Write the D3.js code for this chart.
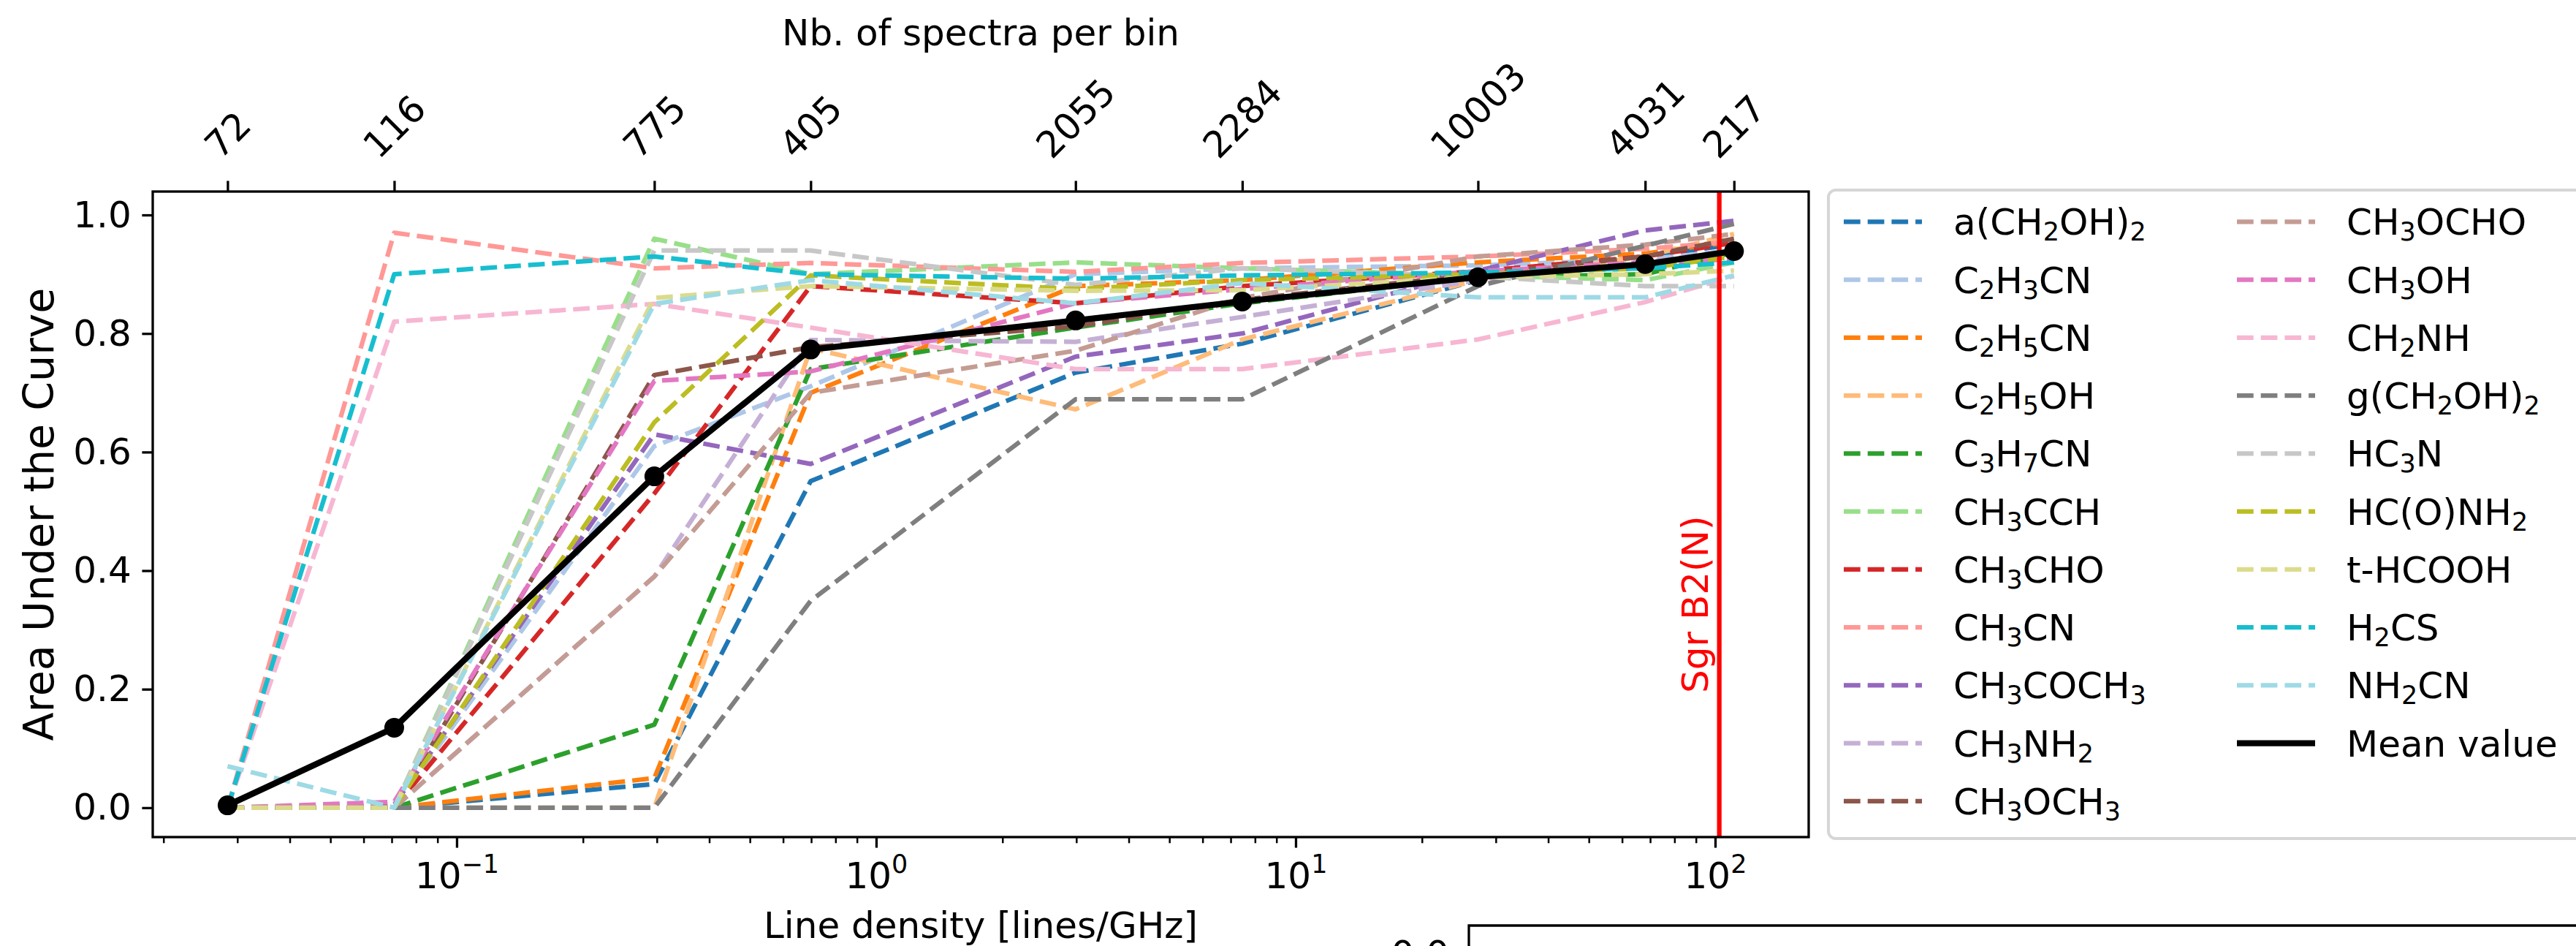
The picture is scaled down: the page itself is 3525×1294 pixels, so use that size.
<!DOCTYPE html>
<html><head><meta charset="utf-8">
<script src="https://cdn.jsdelivr.net/npm/d3@7"></script>
<style>
body{margin:0;background:#fff}
svg{display:block}
text{font-family:"DejaVu Sans",sans-serif}
</style>
</head><body>
<svg id="chart" width="3525" height="1294"></svg>
<script>
// ---------------- DATA ----------------
const lineDensity = [0.02843, 0.07097, 0.2959, 0.698, 2.987, 7.46, 27.2, 68.1, 110.9];
const spectraPerBin = ["72", "116", "775", "405", "2055", "2284", "10003", "4031", "217"];
const yTicks = [0.0, 0.2, 0.4, 0.6, 0.8, 1.0];
const xMajorTicks = [0.1, 1, 10, 100];
const xMajorExponents = ["−1", "0", "1", "2"];
const sgrB2Density = 102.3;

const molecules = ["a(CH2OH)2", "C2H3CN", "C2H5CN", "C2H5OH", "C3H7CN", "CH3CCH", "CH3CHO",
  "CH3CN", "CH3COCH3", "CH3NH2", "CH3OCH3", "CH3OCHO", "CH3OH", "CH2NH", "g(CH2OH)2",
  "HC3N", "HC(O)NH2", "t-HCOOH", "H2CS", "NH2CN"];
const colors = ["#1f77b4", "#aec7e8", "#ff7f0e", "#ffbb78", "#2ca02c", "#98df8a", "#d62728",
  "#ff9896", "#9467bd", "#c5b0d5", "#8c564b", "#c49c94", "#e377c2", "#f7b6d2", "#7f7f7f",
  "#c7c7c7", "#bcbd22", "#dbdb8d", "#17becf", "#9edae5"];

const auc_aCH2OH2  = [0, 0, 0.04, 0.551, 0.734, 0.783, 0.89, 0.93, 0.95];
const auc_C2H3CN   = [0, 0, 0.61, 0.711, 0.90, 0.91, 0.915, 0.925, 0.94];
const auc_C2H5CN   = [0, 0, 0.05, 0.70, 0.88, 0.89, 0.92, 0.935, 0.955];
const auc_C2H5OH   = [0, 0, 0.0, 0.775, 0.672, 0.79, 0.89, 0.93, 0.968];
const auc_C3H7CN   = [0, 0, 0.14, 0.74, 0.81, 0.851, 0.895, 0.90, 0.937];
const auc_CH3CCH   = [0, 0, 0.96, 0.90, 0.92, 0.91, 0.898, 0.89, 0.92];
const auc_CH3CHO   = [0, 0, 0.53, 0.88, 0.851, 0.88, 0.905, 0.93, 0.953];
const auc_CH3CN    = [0, 0.97, 0.91, 0.919, 0.904, 0.919, 0.93, 0.943, 0.955];
const auc_CH3COCH3 = [0, 0.005, 0.63, 0.58, 0.761, 0.80, 0.906, 0.974, 0.99];
const auc_CH3NH2   = [0, 0, 0.39, 0.789, 0.786, 0.828, 0.89, 0.92, 0.94];
const auc_CH3OCH3  = [0, 0, 0.73, 0.777, 0.812, 0.857, 0.90, 0.93, 0.96];
const auc_CH3OCHO  = [0, 0, 0.39, 0.70, 0.771, 0.86, 0.93, 0.95, 0.968];
const auc_CH3OH    = [0, 0.01, 0.72, 0.736, 0.851, 0.875, 0.905, 0.92, 0.925];
const auc_CH2NH    = [0, 0.82, 0.85, 0.81, 0.74, 0.74, 0.79, 0.853, 0.897];
const auc_gCH2OH2  = [0, 0, 0, 0.349, 0.689, 0.689, 0.88, 0.948, 0.985];
const auc_HC3N     = [0, 0, 0.94, 0.94, 0.882, 0.91, 0.896, 0.88, 0.88];
const auc_HCONH2   = [0, 0, 0.65, 0.898, 0.875, 0.89, 0.90, 0.91, 0.93];
const auc_tHCOOH   = [0, 0, 0.86, 0.88, 0.872, 0.873, 0.895, 0.90, 0.906];
const auc_H2CS     = [0, 0.90, 0.93, 0.90, 0.8925, 0.898, 0.903, 0.91, 0.92];
const auc_NH2CN    = [0.07, 0, 0.85, 0.89, 0.851, 0.885, 0.861, 0.861, 0.898];
const auc_mean     = [0.004, 0.135, 0.559, 0.773, 0.822, 0.854, 0.895, 0.917, 0.939];

const seriesValues = [auc_aCH2OH2, auc_C2H3CN, auc_C2H5CN, auc_C2H5OH, auc_C3H7CN, auc_CH3CCH,
  auc_CH3CHO, auc_CH3CN, auc_CH3COCH3, auc_CH3NH2, auc_CH3OCH3, auc_CH3OCHO, auc_CH3OH,
  auc_CH2NH, auc_gCH2OH2, auc_HC3N, auc_HCONH2, auc_tHCOOH, auc_H2CS, auc_NH2CN];

// ---------------- LAYOUT ----------------
const L = 209, R = 2475, T = 262, B = 1145;
const FS = 50;
const svg = d3.select("#chart");

const x = d3.scaleLog().domain([0.018855, 167.1]).range([L, R]);
const y = d3.scaleLinear().domain([-0.0495, 1.0395]).range([B, T]);

// formula with subscripts
function addFormula(textSel, label, fs) {
  const parts = [];
  for (let i = 0; i < label.length; i++) {
    const c = label[i];
    const isDigit = /[0-9]/.test(c);
    const prev = i > 0 ? label[i - 1] : "";
    const sub = isDigit && /[A-Za-z)]/.test(prev);
    if (parts.length && parts[parts.length - 1].sub === sub) parts[parts.length - 1].t += c;
    else parts.push({ t: c, sub: sub });
  }
  let shifted = false;
  parts.forEach(p => {
    const ts = textSel.append("tspan").text(p.t);
    if (p.sub) { ts.attr("font-size", fs * 0.7).attr("dy", 8); shifted = true; }
    else if (shifted) { ts.attr("dy", -8); shifted = false; }
  });
}

// ---------------- SERIES ----------------
const lineGen = d3.line().x((d, i) => x(lineDensity[i])).y(d => y(d));
const gLines = svg.append("g");
seriesValues.forEach((vals, k) => {
  gLines.append("path").attr("d", lineGen(vals)).attr("fill", "none")
    .attr("stroke", colors[k]).attr("stroke-width", 6.25)
    .attr("stroke-dasharray", "22.7,10").attr("stroke-linejoin", "round");
});

// Sgr B2(N) line
svg.append("line").attr("x1", x(sgrB2Density)).attr("x2", x(sgrB2Density))
  .attr("y1", T).attr("y2", B).attr("stroke", "#ff0000").attr("stroke-width", 6.25);
svg.append("text").attr("x", x(sgrB2Density) - 16).attr("y", 948)
  .attr("transform", `rotate(-90,${x(sgrB2Density) - 16},948)`)
  .attr("font-size", FS).attr("fill", "#ff0000").text("Sgr B2(N)");

// mean
svg.append("path").attr("d", lineGen(auc_mean)).attr("fill", "none")
  .attr("stroke", "#000").attr("stroke-width", 8.33).attr("stroke-linejoin", "round");
svg.append("g").selectAll("circle").data(auc_mean).join("circle")
  .attr("cx", (d, i) => x(lineDensity[i])).attr("cy", d => y(d)).attr("r", 13.5).attr("fill", "#000");

// ---------------- AXES ----------------
// left
const gy = svg.append("g").attr("transform", `translate(${L},0)`)
  .call(d3.axisLeft(y).tickValues(yTicks).tickFormat(d3.format(".1f")).tickSize(14.6).tickPadding(14.6).tickSizeOuter(0));
gy.select(".domain").remove();
gy.selectAll("line").attr("stroke-width", 3.3);
gy.selectAll("text").attr("font-size", FS).attr("font-family", "DejaVu Sans").attr("fill", "#000");

// bottom minor
const minor = [];
for (let e = -2; e <= 2; e++) for (let m = 2; m <= 9; m++) {
  const v = m * Math.pow(10, e);
  if (v >= x.domain()[0] && v <= x.domain()[1]) minor.push(v);
}
const gxm = svg.append("g").attr("transform", `translate(0,${B})`)
  .call(d3.axisBottom(x).tickValues(minor).tickFormat("").tickSize(8.3).tickSizeOuter(0));
gxm.select(".domain").remove();
gxm.selectAll("line").attr("stroke-width", 2.5);

// bottom major
const gx = svg.append("g").attr("transform", `translate(0,${B})`)
  .call(d3.axisBottom(x).tickValues(xMajorTicks).tickFormat("").tickSize(14.6).tickSizeOuter(0));
gx.select(".domain").remove();
gx.selectAll("line").attr("stroke-width", 3.3);
gx.selectAll(".tick").each(function (d, i) {
  const t = d3.select(this).select("text");
  t.attr("y", 70).attr("dy", 0).attr("font-size", FS).attr("text-anchor", "middle").attr("fill", "#000");
  t.append("tspan").text("10");
  t.append("tspan").attr("font-size", 35).attr("dy", -21).text(xMajorExponents[i]);
});

// top
const gt = svg.append("g").attr("transform", `translate(0,${T})`)
  .call(d3.axisTop(x).tickValues(lineDensity).tickFormat((d, i) => spectraPerBin[i]).tickSize(14.6).tickSizeOuter(0));
gt.select(".domain").remove();
gt.selectAll("line").attr("stroke-width", 3.3);
gt.selectAll("text").attr("font-size", FS).attr("fill", "#000").each(function () {
  const t = d3.select(this);
  const w = this.getComputedTextLength();
  const cy = (220 - T) - (w + 36) * 0.7071 / 2;
  t.attr("x", 0).attr("y", cy).attr("dy", 0).attr("text-anchor", "middle")
    .attr("dominant-baseline", "central").attr("transform", `rotate(-45,0,${cy})`);
});

// spines
svg.append("rect").attr("x", L).attr("y", T).attr("width", R - L).attr("height", B - T)
  .attr("fill", "none").attr("stroke", "#000").attr("stroke-width", 3.3);

// axis labels
svg.append("text").attr("x", (L + R) / 2).attr("y", 62).attr("text-anchor", "middle")
  .attr("font-size", FS).text("Nb. of spectra per bin");
svg.append("text").attr("x", (L + R) / 2).attr("y", 1283).attr("text-anchor", "middle")
  .attr("font-size", FS).text("Line density [lines/GHz]");
svg.append("text").attr("transform", `translate(73,${(T + B) / 2}) rotate(-90)`)
  .attr("text-anchor", "middle").attr("font-size", 57).text("Area Under the Curve");

// ---------------- LEGEND ----------------
const legX = 2502, legY = 260, legRight = 3540, legBottom = 1147;
svg.append("rect").attr("x", legX).attr("y", legY).attr("width", legRight - legX).attr("height", legBottom - legY)
  .attr("rx", 10).attr("ry", 10).attr("fill", "rgba(255,255,255,0.8)").attr("stroke", "#d6d6d6").attr("stroke-width", 4);
const rowY0 = 303.3, rowDY = 79.25;
const colHX = [2523, 3061], colTX = [2673, 3211];
const legendItems = molecules.map((m, k) => ({ label: m, color: colors[k], dash: true }));
legendItems.push({ label: "Mean value", color: "#000", dash: false });
legendItems.forEach((it, k) => {
  const col = k < 11 ? 0 : 1;
  const row = k < 11 ? k : k - 11;
  const yy = rowY0 + row * rowDY;
  const ln = svg.append("line").attr("x1", colHX[col]).attr("x2", colHX[col] + 107)
    .attr("y1", yy).attr("y2", yy).attr("stroke", it.color);
  if (it.dash) ln.attr("stroke-width", 6.25).attr("stroke-dasharray", "22.7,10");
  else ln.attr("stroke-width", 8.33);
  const t = svg.append("text").attr("x", colTX[col]).attr("y", yy + 18).attr("font-size", FS);
  addFormula(t, it.label, FS);
});

// ---------------- next panel (cut off) ----------------
svg.append("path").attr("d", "M2010,1300 V1266 H3530").attr("fill", "none")
  .attr("stroke", "#000").attr("stroke-width", 3.3);
svg.append("text").attr("x", 1983).attr("y", 1322).attr("text-anchor", "end")
  .attr("font-size", FS).text("0.0");
</script>
</body></html>
